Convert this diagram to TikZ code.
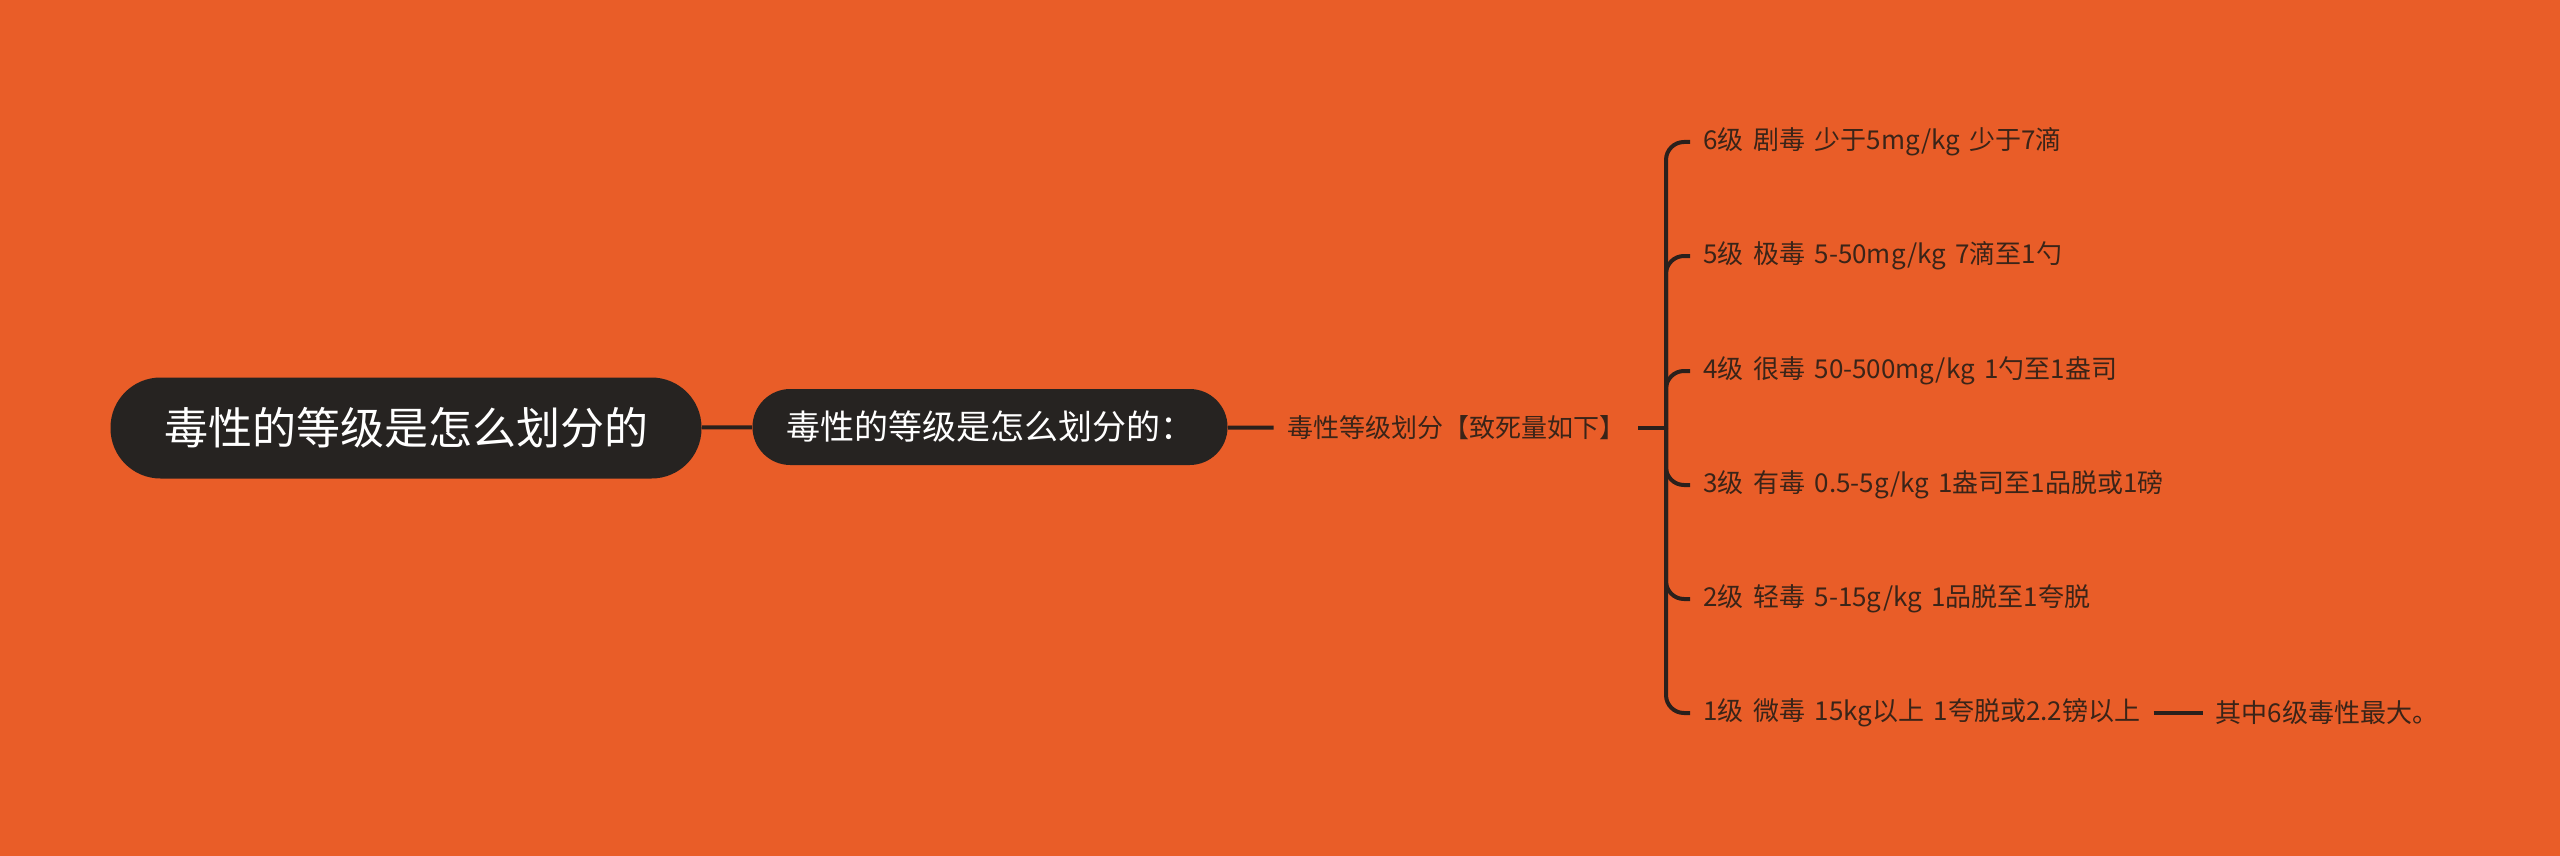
\documentclass[tikz,border=0pt]{standalone}
\usepackage{fontspec}
\setmainfont{Noto Sans CJK SC}
\usetikzlibrary{positioning}
\definecolor{bgorange}{HTML}{E95D28}
\definecolor{boxdark}{HTML}{262321}
\definecolor{inkdark}{HTML}{3A2418}
\definecolor{linedark}{HTML}{2A201C}
\newcommand{\leaffont}{\fontsize{13}{15}\selectfont\spaceskip=4.7pt plus 1pt\relax}
\tikzset{
  topic/.style={fill=boxdark, text=white, rounded corners=25pt, minimum height=50.5pt, minimum width=295.5pt, font=\fontsize{22}{26}\selectfont},
  subtopic/.style={fill=boxdark, text=white, rounded corners=18.9pt, minimum height=38pt, minimum width=237.5pt, font=\fontsize{17}{21}\selectfont},
  leaf/.style={text=inkdark, inner xsep=6.5pt, inner ysep=2pt, font=\leaffont},
  link/.style={draw=linedark, line width=2pt},
}
\begin{document}
\begin{tikzpicture}[x=0.5pt,y=-0.5pt]
\fill[bgorange] (0,0) rectangle (2560,856);
\useasboundingbox (0,0) rectangle (2560,856);

\node [topic] (root) at (406,428) {毒性的等级是怎么划分的};
\node [subtopic] (sub) at (990,427) {毒性的等级是怎么划分的：};
\node [leaf] (split) at (1456,428) {毒性等级划分【致死量如下】};
\coordinate (fork) at (1666,428);

\node [leaf,anchor=west] (lv6) at (1690,142) {6级 剧毒 少于5mg/kg 少于7滴};
\node [leaf,anchor=west] (lv5) at (1690,256) {5级 极毒 5-50mg/kg 7滴至1勺};
\node [leaf,anchor=west] (lv4) at (1690,371) {4级 很毒 50-500mg/kg 1勺至1盎司};
\node [leaf,anchor=west] (lv3) at (1690,485) {3级 有毒 0.5-5g/kg 1盎司至1品脱或1磅};
\node [leaf,anchor=west] (lv2) at (1690,599) {2级 轻毒 5-15g/kg 1品脱至1夸脱};
\node [leaf,anchor=west] (lv1) at (1690,713) {1级 微毒 15kg以上 1夸脱或2.2镑以上};
\node [leaf,right=24.5pt of lv1] (note) {其中6级毒性最大。};

\draw [link] (root) -- (sub);
\draw [link] (sub) -- (split);
\draw [link] (split) -- (fork);
\foreach \n in {1,...,6}
  \draw [link,rounded corners=9pt] (fork) |- (lv\n.west);
\draw [link] (lv1) -- (note);
\end{tikzpicture}
\end{document}
